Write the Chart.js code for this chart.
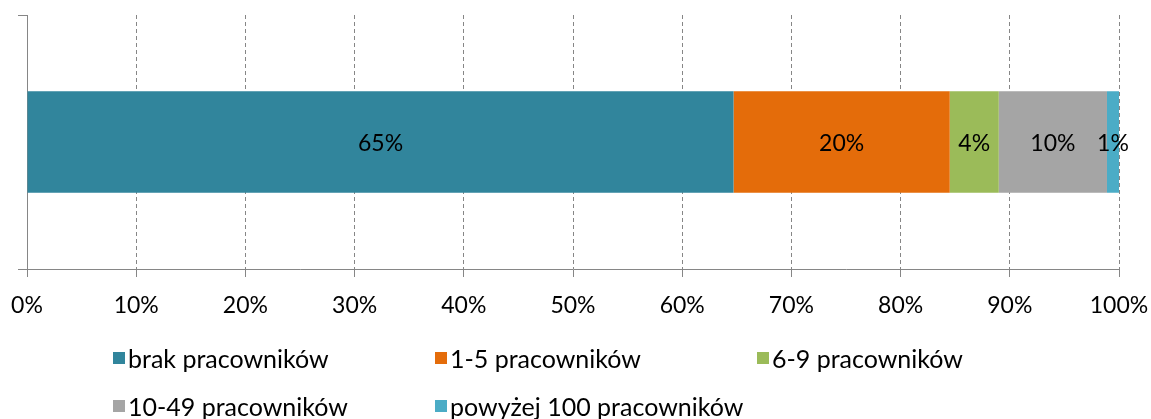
<!DOCTYPE html>
<html><head><meta charset="utf-8">
<script src="https://cdn.jsdelivr.net/npm/chart.js@4/dist/chart.umd.min.js"></script>
<style>html,body{margin:0;padding:0;background:#fff}#wrap{width:1151px;height:419px;position:relative}</style>
</head><body><div id="wrap"><canvas id="c" width="1151" height="419"></canvas></div>
<script>
const categories = [''];
const seriesNames = ['brak pracowników', '1-5 pracowników', '6-9 pracowników', '10-49 pracowników', 'powyżej 100 pracowników'];
const seriesValues = [64.7, 19.8, 4.49, 9.91, 1.1];
const seriesColors = ['#31859C', '#E46C0A', '#9BBB59', '#A5A5A5', '#4BACC6'];
const xTickMin = 0, xTickMax = 100, xTickStep = 10;

const FONT = 'Lato';
const FS = 23;
const LFS = 25;
const AXIS = '#868686';

const barLabels = {
  id: 'barLabels',
  afterDatasetsDraw(chart) {
    const ctx = chart.ctx;
    ctx.save();
    ctx.font = FS + 'px ' + FONT;
    ctx.fillStyle = '#000';
    ctx.textAlign = 'center';
    ctx.textBaseline = 'middle';
    chart.data.datasets.forEach((ds, i) => {
      const meta = chart.getDatasetMeta(i);
      meta.data.forEach((el, j) => {
        const v = ds.data[j];
        ctx.fillText(Math.round(v) + '%', (el.x + el.base) / 2, el.y + 2);
      });
    });
    ctx.restore();
  }
};

const gridLegend = {
  id: 'gridLegend',
  afterDraw(chart) {
    const ctx = chart.ctx;
    ctx.save();
    ctx.font = LFS + 'px ' + FONT;
    ctx.textAlign = 'left';
    ctx.textBaseline = 'middle';
    const startX = 113, colW = 322, cols = 3, row0 = 359, rowH = 48, box = 12;
    chart.data.datasets.forEach((ds, i) => {
      const c = i % cols, r = Math.floor(i / cols);
      const x = startX + c * colW, y = row0 + r * rowH;
      ctx.fillStyle = ds.backgroundColor;
      ctx.fillRect(x, y - box / 2 - 1, box, box);
      ctx.fillStyle = '#000';
      ctx.fillText(ds.label, x + box + 3, y + 1);
    });
    ctx.restore();
  }
};

new Chart(document.getElementById('c'), {
  type: 'bar',
  data: {
    labels: categories,
    datasets: seriesNames.map((n, i) => ({
      label: n,
      data: [seriesValues[i]],
      backgroundColor: seriesColors[i],
      borderWidth: 0,
      barPercentage: 0.4,
      categoryPercentage: 1.0
    }))
  },
  options: {
    indexAxis: 'y',
    responsive: false,
    devicePixelRatio: 1,
    animation: false,
    layout: { padding: { top: 15, right: 32, left: 0, bottom: 100 } },
    plugins: { legend: { display: false }, tooltip: { enabled: false } },
    scales: {
      x: {
        stacked: true,
        min: xTickMin, max: xTickMax,
        ticks: { stepSize: xTickStep, callback: v => v + '%', color: '#000', font: { family: FONT, size: FS }, padding: 15, maxRotation: 0 },
        grid: { color: AXIS, lineWidth: 1, tickLength: 8, tickColor: AXIS, tickBorderDash: [] },
        border: { color: AXIS, width: 1, dash: [4, 3] },
        afterFit: a => { a.height = 50; a.paddingLeft = 0; a.paddingRight = 0; }
      },
      y: {
        stacked: true,
        ticks: { display: false },
        grid: { drawOnChartArea: false, drawTicks: true, tickLength: 9, color: AXIS, tickColor: AXIS, offset: true },
        border: { color: AXIS, width: 1 },
        afterFit: a => { a.width = 27; a.paddingTop = 0; a.paddingBottom = 0; }
      }
    }
  },
  plugins: [barLabels, gridLegend]
});
</script>
</body></html>
